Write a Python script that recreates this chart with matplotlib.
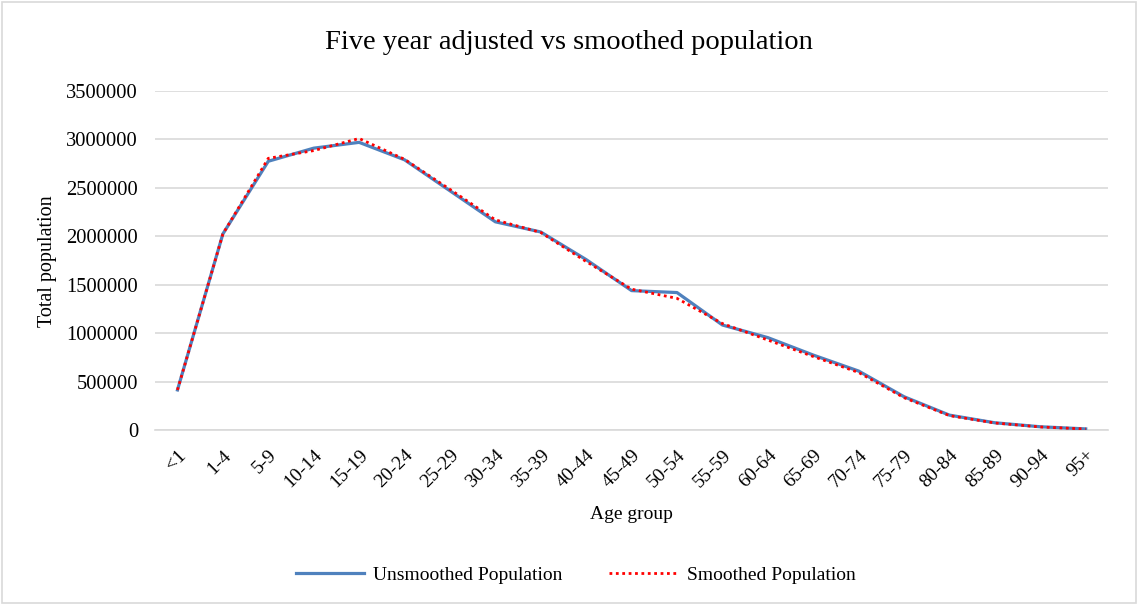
import matplotlib.pyplot as plt
from matplotlib.patches import Rectangle

plt.rcParams['font.family'] = ['Liberation Serif', 'DejaVu Serif']

age_groups = ['<1', '1-4', '5-9', '10-14', '15-19', '20-24', '25-29', '30-34',
              '35-39', '40-44', '45-49', '50-54', '55-59', '60-64', '65-69',
              '70-74', '75-79', '80-84', '85-89', '90-94', '95+']

unsmoothed = [415000, 2025000, 2775000, 2910000, 2970000, 2790000, 2470000,
              2150000, 2045000, 1760000, 1440000, 1420000, 1085000, 955000,
              775000, 610000, 345000, 155000, 76000, 35000, 13000]

smoothed = [415000, 2025000, 2805000, 2885000, 3010000, 2795000, 2485000,
            2170000, 2040000, 1740000, 1455000, 1360000, 1100000, 930000,
            760000, 595000, 335000, 150000, 74000, 33000, 12000]

y_ticks = [0, 500000, 1000000, 1500000, 2000000, 2500000, 3000000, 3500000]

fig = plt.figure(figsize=(11.38, 6.05), dpi=100)
ax = fig.add_axes([0.136, 0.289, 0.838, 0.5606])

x = range(len(age_groups))
ax.plot(x, unsmoothed, color='#4F81BD', lw=2.3, label='Unsmoothed Population',
        solid_joinstyle='round', zorder=3)
ax.plot(x, smoothed, color='#FF0000', lw=2.0, ls=(0, (1, 1.3)),
        label='Smoothed Population', zorder=4)

ax.set_xlim(-0.5, len(age_groups) - 0.5)
ax.set_ylim(0, 3500000)
ax.set_yticks(y_ticks)
ax.set_yticklabels([str(v) for v in y_ticks], fontsize=14.8)
ax.set_xticks(list(x))
ax.set_xticklabels(age_groups, fontsize=14, rotation=45, ha='right',
                   rotation_mode='anchor')
ax.tick_params(axis='y', length=0, pad=12)
ax.tick_params(axis='x', length=0, pad=12)

ax.grid(axis='y', color='#D9D9D9', lw=1.2)
ax.set_axisbelow(True)
for side in ['top', 'right', 'left']:
    ax.spines[side].set_visible(False)
ax.spines['bottom'].set_color('#D9D9D9')
ax.spines['bottom'].set_linewidth(1.2)

fig.text(0.5, 0.93, 'Five year adjusted vs smoothed population',
         ha='center', va='center', fontsize=20.5)
fig.text(0.042, 0.568, 'Total population', rotation=90, ha='center',
         va='center', fontsize=14.5)
fig.text(0.555, 0.149, 'Age group', ha='center', va='center', fontsize=14)

fig.legend(loc='center', bbox_to_anchor=(0.506, 0.05), ncol=2, frameon=False,
           fontsize=14, handlelength=3.5, handletextpad=0.5,
           columnspacing=2.4)

fig.patches.append(Rectangle((0.002, 0.003), 0.996, 0.994,
                             transform=fig.transFigure, fill=False,
                             edgecolor='#D9D9D9', lw=1.2))

fig.savefig('out.png', dpi=100)
